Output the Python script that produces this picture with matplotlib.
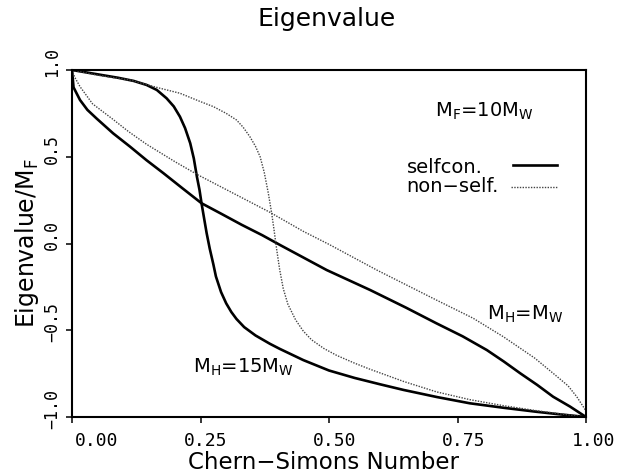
import matplotlib
matplotlib.use("Agg")
import matplotlib.pyplot as plt
import matplotlib.transforms as mtransforms

# M_H = 15 M_W, self-consistent
x_steep_sc = [0, 0.03, 0.06, 0.09, 0.12, 0.145, 0.165, 0.184, 0.198, 0.21, 0.22,
              0.23, 0.237, 0.243, 0.248, 0.252, 0.257, 0.262, 0.268, 0.275, 0.28,
              0.29, 0.30, 0.31, 0.32, 0.335, 0.357, 0.385, 0.404, 0.45, 0.50,
              0.55, 0.60, 0.645, 0.71, 0.774, 0.84, 0.904, 0.95, 1.0]
y_steep_sc = [1.0, 0.985, 0.97, 0.955, 0.937, 0.914, 0.885, 0.837, 0.79, 0.731, 0.665,
              0.578, 0.49, 0.385, 0.31, 0.232, 0.145, 0.059, -0.03, -0.12, -0.19,
              -0.28, -0.345, -0.395, -0.435, -0.482, -0.53, -0.578, -0.607, -0.672, -0.732,
              -0.775, -0.812, -0.844, -0.885, -0.921, -0.947, -0.97, -0.985, -1.0]

# M_H = 15 M_W, non-self-consistent
x_steep_ns = [0, 0.05, 0.113, 0.171, 0.21, 0.248, 0.275, 0.30, 0.32, 0.333, 0.346,
              0.357, 0.366, 0.374, 0.382, 0.3885, 0.393, 0.398, 0.404, 0.411, 0.42,
              0.435, 0.45, 0.466, 0.49, 0.515, 0.55, 0.58, 0.645, 0.709, 0.774,
              0.84, 0.90, 0.95, 1.0]
y_steep_ns = [1.0, 0.97, 0.942, 0.895, 0.866, 0.82, 0.789, 0.75, 0.712, 0.67, 0.616,
              0.56, 0.5, 0.41, 0.289, 0.174, 0.08, -0.03, -0.15, -0.26, -0.35,
              -0.44, -0.505, -0.555, -0.605, -0.645, -0.69, -0.725, -0.795, -0.855, -0.90,
              -0.935, -0.962, -0.982, -1.0]

# M_H = M_W, self-consistent
x_flat_sc = [0, 0.003, 0.0156, 0.03, 0.048, 0.08, 0.113, 0.145, 0.178, 0.215, 0.252,
             0.29, 0.33, 0.37, 0.405, 0.4955, 0.58, 0.65, 0.709, 0.76, 0.807, 0.84,
             0.872, 0.905, 0.936, 0.969, 1.0]
y_flat_sc = [1.0, 0.90, 0.827, 0.77, 0.72, 0.635, 0.558, 0.48, 0.405, 0.318, 0.232,
             0.172, 0.108, 0.048, -0.009, -0.153, -0.268, -0.37, -0.46, -0.535, -0.614, -0.68,
             -0.748, -0.815, -0.883, -0.94, -1.0]

# M_H = M_W, non-self-consistent
x_flat_ns = [0, 0.005, 0.0156, 0.04, 0.08, 0.11, 0.145, 0.2, 0.244, 0.307, 0.385, 0.45,
             0.5, 0.593, 0.709, 0.78, 0.839, 0.9, 0.936, 0.965, 0.982, 1.0]
y_flat_ns = [1.0, 0.96, 0.904, 0.805, 0.715, 0.645, 0.572, 0.472, 0.397, 0.30, 0.18, 0.07,
             -0.005, -0.153, -0.326, -0.43, -0.537, -0.66, -0.748, -0.82, -0.883, -0.965]

xticks = [0, 0.25, 0.5, 0.75, 1.0]
xtick_labels = ["0.00", "0.25", "0.50", "0.75", "1.00"]
yticks = [-1.0, -0.5, 0.0, 0.5, 1.0]
ytick_labels = ["\u22121.0", "\u22120.5", "0.0", "0.5", "1.0"]

plt.rcParams["font.family"] = "DejaVu Sans"
plt.rcParams["mathtext.default"] = "regular"

fig = plt.figure(figsize=(6.25, 4.75), dpi=100)
ax = fig.add_axes([72 / 625, 1 - 417 / 475, 514 / 625, 347 / 475])

solid = dict(color="black", lw=1.9, solid_capstyle="round", solid_joinstyle="round")
dotted = dict(color="#444444", lw=1.0, ls=(0, (1, 1)))

ax.plot(x_steep_sc, y_steep_sc, **solid)
ax.plot(x_flat_sc, y_flat_sc, **solid)
ax.plot(x_steep_ns, y_steep_ns, **dotted)
ax.plot(x_flat_ns, y_flat_ns, **dotted)

ax.set_xlim(0, 1)
ax.set_ylim(-1, 1)

for s in ax.spines.values():
    s.set_linewidth(1.5)

ax.set_xticks(xticks)
ax.set_xticklabels(xtick_labels, family="DejaVu Sans Mono", fontsize=13)
ax.set_yticks(yticks)
ax.set_yticklabels(ytick_labels, family="DejaVu Sans Mono", fontsize=12,
                   rotation=90, va="center")
ax.tick_params(axis="x", direction="out", length=4.3, width=1.1, pad=6.5)
ax.tick_params(axis="y", direction="out", length=4.3, width=1.1, pad=3.6)

# tick labels sit a little off their ticks (first x label clears the corner)
x_shift_px = [25, 5, 6, 6, 8]
for lab, dx in zip(ax.get_xticklabels(), x_shift_px):
    lab.set_transform(lab.get_transform()
                      + mtransforms.ScaledTranslation(dx / 100, 0, fig.dpi_scale_trans))
for lab in ax.get_yticklabels():
    lab.set_transform(lab.get_transform()
                      + mtransforms.ScaledTranslation(0, 8 / 100, fig.dpi_scale_trans))

fig.text(0.523, 0.96, "Eigenvalue", fontsize=18, ha="center", va="center")
ax.set_xlabel("Chern\u2212Simons Number", fontsize=16.5)
ax.xaxis.set_label_coords(0.49, -0.098)
ax.set_ylabel("Eigenvalue/$M_F$", fontsize=17)
ax.yaxis.set_label_coords(-0.06, 0.5)

# annotations and hand-made legend
ax.text(0.706, 0.731, "$M_F$=10$M_W$", fontsize=14, ha="left", va="baseline")
ax.text(0.651, 0.408, "selfcon.", fontsize=14, ha="left", va="baseline")
ax.text(0.651, 0.295, "non\u2212self.", fontsize=14, ha="left", va="baseline")
ax.plot([0.858, 0.944], [0.452, 0.452], color="black", lw=1.9)
ax.plot([0.855, 0.943], [0.324, 0.324], **dotted)
ax.text(0.807, -0.44, "$M_H$=$M_W$", fontsize=14, ha="left", va="baseline")
ax.text(0.235, -0.745, "$M_H$=15$M_W$", fontsize=14, ha="left", va="baseline")

fig.savefig("out.png", dpi=100)
